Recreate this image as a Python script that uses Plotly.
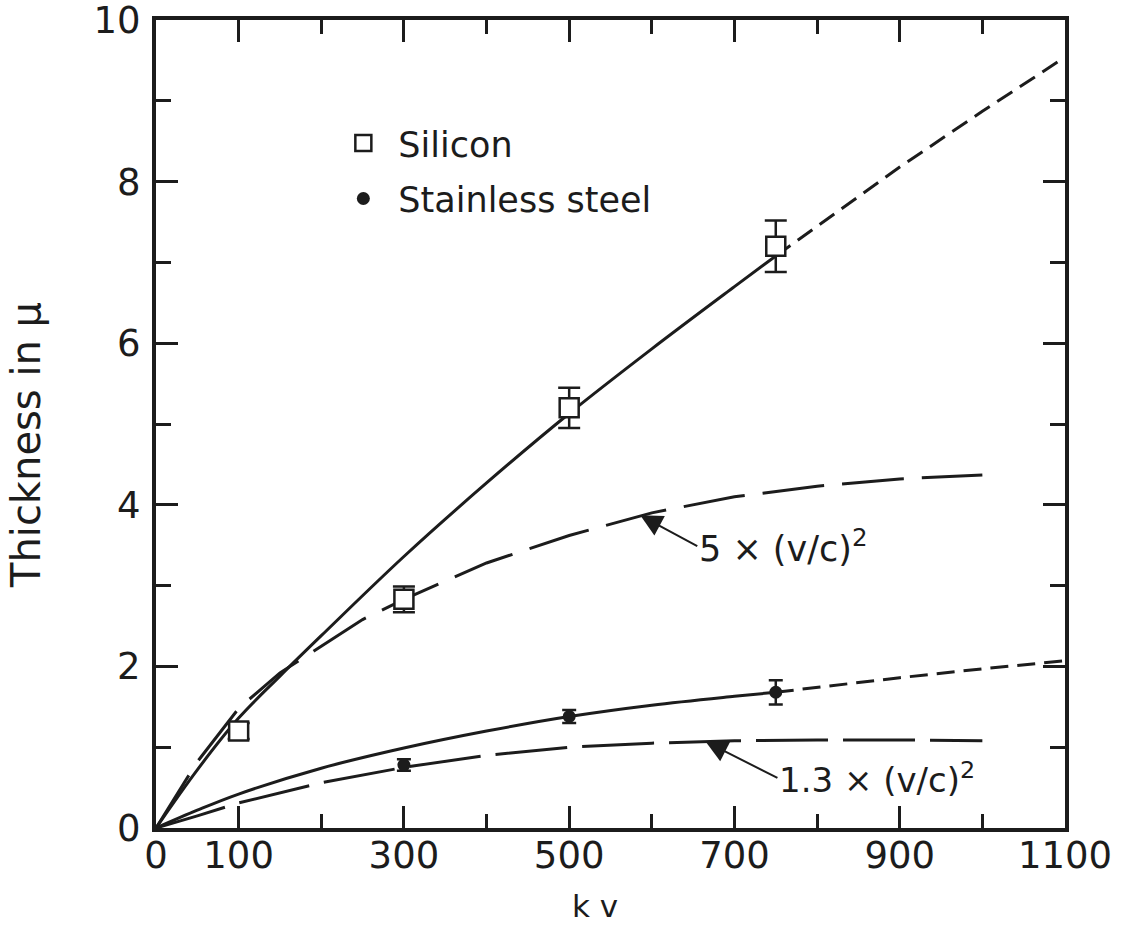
import plotly.graph_objects as go

# ---- data ----
kv_si = [100, 300, 500, 750]
thick_si = [1.2, 2.83, 5.2, 7.2]
err_si = [0.1, 0.16, 0.25, 0.32]

kv_ss = [300, 500, 750]
thick_ss = [0.78, 1.38, 1.68]
err_ss = [0.07, 0.08, 0.15]

# silicon fitted curve (solid part and dashed extrapolation)
si_fit_kv = [0, 50, 100, 150, 200, 300, 400, 500, 600, 700, 750]
si_fit = [0, 0.72, 1.36, 1.88, 2.38, 3.36, 4.27, 5.13, 5.93, 6.7, 7.08]
si_ext_kv = [750, 800, 900, 1000, 1100]
si_ext = [7.08, 7.45, 8.18, 8.87, 9.54]

# stainless steel fitted curve (solid part and dashed extrapolation)
ss_fit_kv = [0, 50, 100, 200, 300, 400, 500, 600, 700, 750]
ss_fit = [0, 0.22, 0.42, 0.74, 0.99, 1.2, 1.38, 1.52, 1.63, 1.68]
ss_ext_kv = [750, 800, 900, 1000, 1100]
ss_ext = [1.68, 1.74, 1.86, 1.97, 2.07]

# 5 x (v/c)^2 curve
b5_kv = [0, 50, 100, 150, 200, 250, 300, 400, 500, 600, 700, 800, 900, 1000]
b5 = [0, 0.82, 1.48, 1.92, 2.25, 2.58, 2.83, 3.28, 3.62, 3.9, 4.1, 4.23, 4.32, 4.37]

# 1.3 x (v/c)^2 curve
b13_kv = [0, 50, 100, 200, 300, 400, 500, 600, 700, 800, 900, 1000]
b13 = [0, 0.15, 0.31, 0.56, 0.75, 0.9, 1.0, 1.05, 1.08, 1.09, 1.09, 1.08]

x_ticks = [0, 100, 300, 500, 700, 900, 1100]
x_minor = [200, 400, 600, 800, 1000]
y_ticks = [0, 2, 4, 6, 8, 10]
y_minor = [1, 3, 5, 7, 9]

INK = "#1c1c1c"
FONT = "DejaVu Sans"

fig = go.Figure()

# curves
fig.add_trace(go.Scatter(x=b5_kv, y=b5, mode="lines", showlegend=False,
                         line=dict(color=INK, width=3, dash="62px,18px")))
fig.add_trace(go.Scatter(x=b13_kv, y=b13, mode="lines", showlegend=False,
                         line=dict(color=INK, width=3, dash="72px,15px")))
fig.add_trace(go.Scatter(x=si_fit_kv, y=si_fit, mode="lines", showlegend=False,
                         line=dict(color=INK, width=3, shape="spline")))
fig.add_trace(go.Scatter(x=si_ext_kv, y=si_ext, mode="lines", showlegend=False,
                         line=dict(color=INK, width=3, dash="18px,9px")))
fig.add_trace(go.Scatter(x=ss_fit_kv, y=ss_fit, mode="lines", showlegend=False,
                         line=dict(color=INK, width=3, shape="spline")))
fig.add_trace(go.Scatter(x=ss_ext_kv, y=ss_ext, mode="lines", showlegend=False,
                         line=dict(color=INK, width=3, dash="18px,9px")))

# data points
fig.add_trace(go.Scatter(
    x=kv_si, y=thick_si, mode="markers", name="Silicon", legendgroup="si",
    marker=dict(symbol="square", size=19, color="white",
                line=dict(color=INK, width=2.5)),
    error_y=dict(type="data", array=err_si, color=INK, thickness=2.5, width=11),
))
fig.add_trace(go.Scatter(
    x=kv_ss, y=thick_ss, mode="markers", name="Stainless steel", legendgroup="ss",
    marker=dict(symbol="circle", size=13, color=INK),
    error_y=dict(type="data", array=err_ss, color=INK, thickness=2.5, width=7),
))

# curve labels with arrows (text box sits at the arrow tail)
fig.add_annotation(x=586, y=3.87, ax=655, ay=3.49, axref="x", ayref="y",
                   xanchor="left", yanchor="middle",
                   text="5 × (v/c)<sup>2</sup>", showarrow=True,
                   arrowhead=2, arrowsize=2.2, arrowwidth=2, arrowcolor=INK,
                   standoff=0, startstandoff=0,
                   font=dict(family=FONT, size=35, color=INK))
fig.add_annotation(x=665, y=1.07, ax=752, ay=0.62, axref="x", ayref="y",
                   xanchor="left", yanchor="middle",
                   text="1.3 × (v/c)<sup>2</sup>", showarrow=True,
                   arrowhead=2, arrowsize=2.2, arrowwidth=2, arrowcolor=INK,
                   standoff=0, startstandoff=0,
                   font=dict(family=FONT, size=34, color=INK))

# axis titles, placed as in the reference
fig.add_annotation(xref="paper", yref="paper", x=-0.143, y=0.474,
                   xanchor="center", yanchor="middle", textangle=-90,
                   text="Thickness in μ", showarrow=False,
                   font=dict(family=FONT, size=40, color=INK))
fig.add_annotation(xref="paper", yref="paper", x=0.483, y=-0.097,
                   xanchor="center", yanchor="middle",
                   text="k v", showarrow=False,
                   font=dict(family=FONT, size=31, color=INK))

axis_common = dict(
    showline=True, linewidth=4, linecolor=INK, mirror="allticks",
    ticks="inside", tickwidth=2.5, tickcolor=INK, ticklen=22,
    showgrid=False, zeroline=False, automargin=False,
    ticklabeloverflow="allow",
    tickfont=dict(family=FONT, size=37, color=INK),
)

fig.update_xaxes(
    range=[0, 1100], tickvals=x_ticks, ticktext=[str(v) for v in x_ticks],
    minor=dict(tickvals=x_minor, ticks="inside", ticklen=14, tickwidth=2.5,
               tickcolor=INK),
    ticklabelstandoff=-8,
    **axis_common,
)
fig.update_yaxes(
    range=[0, 10], tickvals=y_ticks, ticktext=[str(v) for v in y_ticks],
    minor=dict(tickvals=y_minor, ticks="inside", ticklen=15, tickwidth=2.5,
               tickcolor=INK),
    ticklabelstandoff=4,
    **axis_common,
)

fig.update_layout(
    width=1127, height=941,
    margin=dict(l=156, r=62, t=20, b=113),
    paper_bgcolor="white", plot_bgcolor="white",
    showlegend=True,
    legend=dict(x=0.1896, y=0.884, xanchor="left", yanchor="top",
                bgcolor="rgba(0,0,0,0)", traceorder="grouped", tracegroupgap=7,
                font=dict(family=FONT, size=35, color=INK), itemwidth=60),
)

# remove the default 8px page margin so the figure fills the window exactly
fig.write_html("out.html", config={"displayModeBar": False},
               post_script="document.body.style.margin='0';")
